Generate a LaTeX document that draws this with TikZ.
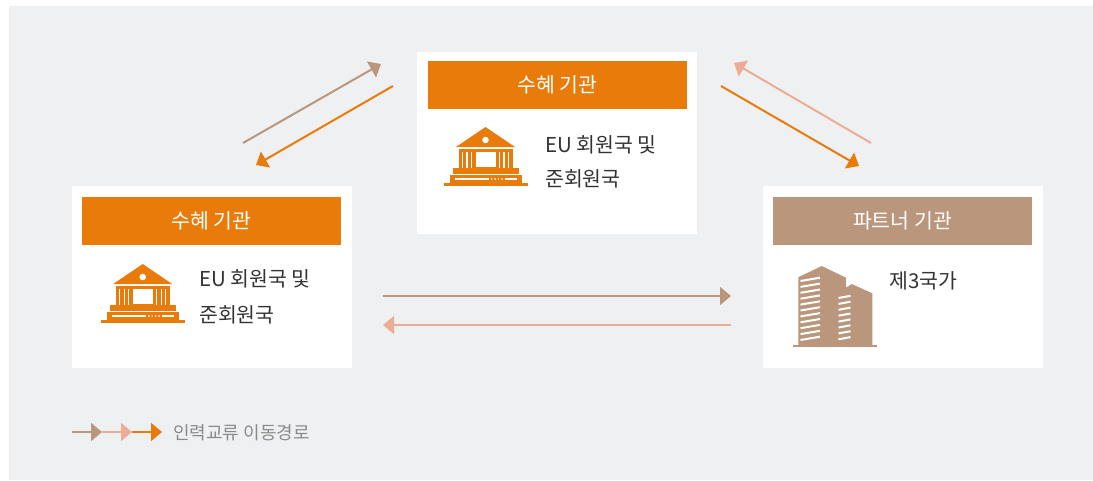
\documentclass[tikz,border=0pt]{standalone}
\usepackage{fontspec}
\setmainfont{Noto Sans CJK KR}
\usetikzlibrary{arrows.meta}
\definecolor{orange1}{RGB}{232,123,10}
\definecolor{tan1}{RGB}{186,151,124}
\definecolor{salmon1}{RGB}{236,173,150}
\definecolor{bggrey}{RGB}{239,240,242}
\definecolor{textdark}{RGB}{51,51,51}
\definecolor{legendgrey}{RGB}{138,138,138}

\begin{document}
\begin{tikzpicture}[
  x=1pt, y=-1pt,
  card/.style={fill=white, inner sep=0pt, minimum width=280pt, minimum height=182pt},
  head/.style={inner sep=0pt, minimum width=259pt, minimum height=48pt, text=white,
               font=\fontsize{20.5}{22}\selectfont},
  info/.style={anchor=base west, inner sep=0pt, text=textdark, font=\fontsize{20.5}{22}\selectfont},
  flow/.style={line width=2pt, -{Triangle[length=11pt, width=18pt]}},
  bank/.pic={
    \fill[orange1] (-29.5,20) -- (0,0) -- (29.5,20) -- cycle;
    \fill[white] (0,13) circle (3.3pt);
    \fill[orange1] (-27,21.5) rectangle (27,41);
    \foreach \col in {-23,-18.5,-14,14,18.5,23}
      \fill[white] (\col-0.7,25) rectangle (\col+0.7,41);
    \fill[white] (-10,24.7) rectangle (10,39.5);
    \fill[orange1] (-33,41) rectangle (33,47);
    \fill[orange1] (-36,48.3) rectangle (36,55.5);
    \fill[orange1] (-42,55.5) rectangle (42,59);
    \draw[white, line width=1.2pt] (-31,52) -- (3,52) (19,52) -- (31,52);
    \foreach \d in {6.2,9.6,13,16.4}
      \fill[white] (\d,52) circle (0.9pt);
  },
]
\useasboundingbox (0,0) rectangle (1093,480);
\fill[bggrey] (9,6) rectangle (1093,480);

% Top card
\node[card] (topcard) at (556.5,142.5) {};
\node[head, fill=orange1] (tophead) at (557.5,85) {수혜 기관};
\pic at (485.5,127) {bank};
\node[info] (topinfo1) at (545,152.5) {EU 회원국 및};
\node[info] (topinfo2) at (545,186) {준회원국};

% Left card
\node[card] (leftcard) at (212,277) {};
\node[head, fill=orange1] (lefthead) at (211.5,221) {수혜 기관};
\pic at (142.7,264) {bank};
\node[info] (leftinfo1) at (199,286.5) {EU 회원국 및};
\node[info] (leftinfo2) at (199,322) {준회원국};

% Right card
\node[card] (rightcard) at (903,277) {};
\node[head, fill=tan1] (righthead) at (902.5,221) {파트너 기관};
\fill[tan1] (798.3,345) -- (798.3,277.3) -- (821.7,266) -- (846,277.7) -- (846,287.7)
  -- (851.7,284) -- (872.3,293.3) -- (872.3,345) -- cycle;
\fill[tan1] (793.3,344.5) rectangle (876.7,347.3);
\foreach \i in {0,...,10}
  \draw[white, line width=2pt] (800.5,{281+5.9*\i}) -- (820,{277.7+5.9*\i});
\foreach \i in {0,...,7}
  \draw[white, line width=2pt] (838.5,{298+5.9*\i}) -- (850.5,{295.8+5.9*\i});
\node[info] (rightinfo) at (889.5,288) {제3국가};

% Exchange routes
\coordinate (ul0) at (243,143);  \coordinate (ul1) at (381,64);
\coordinate (dl0) at (393,86);   \coordinate (dl1) at (256,165);
\coordinate (ur0) at (871,143);  \coordinate (ur1) at (734,63);
\coordinate (dr0) at (721,86);   \coordinate (dr1) at (859,166);
\coordinate (hb0) at (383,296);  \coordinate (hb1) at (731,296);
\coordinate (hs0) at (731,325);  \coordinate (hs1) at (383,325);
\draw[flow, tan1] (ul0) -- (ul1);
\draw[flow, orange1] (dl0) -- (dl1);
\draw[flow, salmon1] (ur0) -- (ur1);
\draw[flow, orange1] (dr0) -- (dr1);
\draw[flow, tan1] (hb0) -- (hb1);
\draw[flow, salmon1] (hs0) -- (hs1);

% Legend
\coordinate (lg0) at (72,432);   \coordinate (lg1) at (102,432);
\coordinate (lg2) at (132,432);  \coordinate (lg3) at (162,432);
\draw[flow, tan1] (lg0) -- (lg1);
\draw[flow, salmon1] (lg1) -- (lg2);
\draw[flow, orange1] (lg2) -- (lg3);
\node[anchor=west, inner sep=0pt, text=legendgrey, font=\fontsize{18}{20}\selectfont]
  (legend) at (173,433) {인력교류 이동경로};
\end{tikzpicture}
\end{document}
